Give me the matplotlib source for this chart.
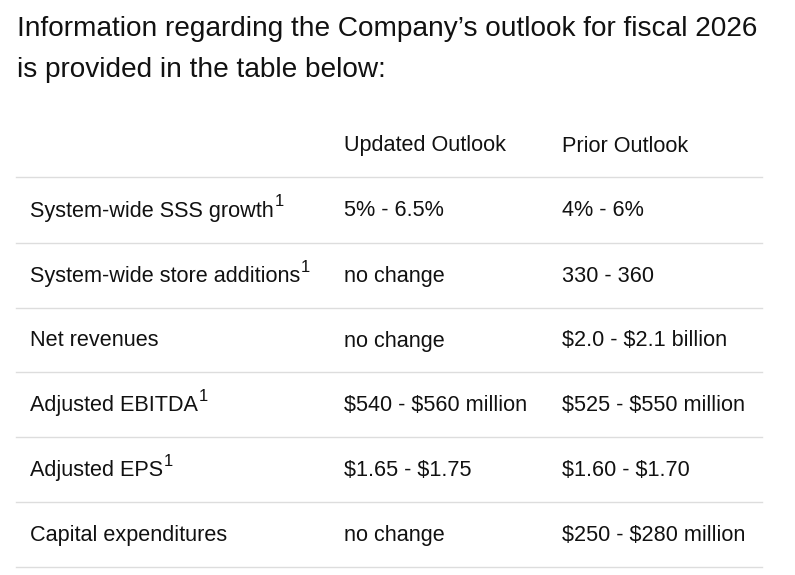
import matplotlib
matplotlib.use("Agg")
import matplotlib.pyplot as plt
from matplotlib.lines import Line2D

plt.rcParams['font.family'] = ['Liberation Sans', 'DejaVu Sans']
plt.rcParams['mathtext.fontset'] = 'custom'
plt.rcParams['mathtext.rm'] = 'Liberation Sans'
plt.rcParams['mathtext.it'] = 'Liberation Sans'

title_lines = ["Information regarding the Company\u2019s outlook for fiscal 2026",
               "is provided in the table below:"]
headers = ["", "Updated Outlook", "Prior Outlook"]
metrics = ["System-wide SSS growth", "System-wide store additions", "Net revenues",
           "Adjusted EBITDA", "Adjusted EPS", "Capital expenditures"]
footnote = [True, True, False, True, True, False]
updated = ["5% - 6.5%", "no change", "no change", "$540 - $560 million",
           "$1.65 - $1.75", "no change"]
prior = ["4% - 6%", "330 - 360", "$2.0 - $2.1 billion", "$525 - $550 million",
         "$1.60 - $1.70", "$250 - $280 million"]

W, H = 795, 575
fig = plt.figure(figsize=(W/100, H/100), dpi=100)
fig.patch.set_facecolor('white')

def Y(py): return 1 - py/H
def X(px): return px/W

def esc(s): return s.replace('$', r'\$')

for i, t in enumerate(title_lines):
    fig.text(X(17), Y(29 + i*41), t, fontsize=20.2, va='center', ha='left', color='#111111')

cols = [30, 344, 562]
for c, h in zip(cols, headers):
    fig.text(X(c), Y(146), h, fontsize=15.6, va='center', color='#111111')

line_ys = [177, 243, 308, 372, 437, 502, 567]
for ly in line_ys:
    fig.add_artist(Line2D([X(16), X(762)], [Y(ly), Y(ly)], color='#dddddd', lw=1))

for i in range(len(metrics)):
    cy = (line_ys[i] + line_ys[i+1]) / 2 + 1
    fig.text(X(cols[0]), Y(cy), esc(metrics[i]), fontsize=15.6, va='center', color='#111111')
    if footnote[i]:
        t = fig.text(X(cols[0]), Y(cy), esc(metrics[i]), fontsize=15.6, va='center', alpha=0)
        fig.canvas.draw()
        bb = t.get_window_extent()
        fig.text(bb.x1 / W + 0.001, Y(cy - 9), "1", fontsize=12, va='center', color='#111111')
    fig.text(X(cols[1]), Y(cy), esc(updated[i]), fontsize=15.6, va='center', color='#111111')
    fig.text(X(cols[2]), Y(cy), esc(prior[i]), fontsize=15.6, va='center', color='#111111')

fig.savefig("out.png", dpi=100, facecolor='white')
